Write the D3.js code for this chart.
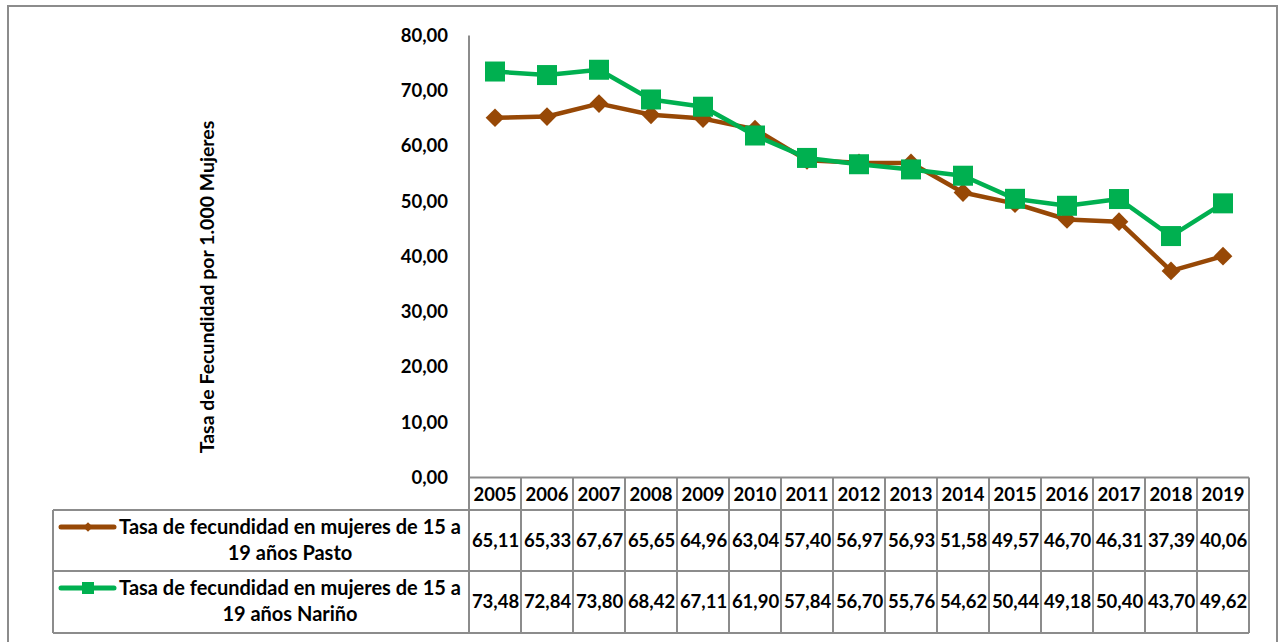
<!DOCTYPE html>
<html><head><meta charset="utf-8">
<script src="https://cdn.jsdelivr.net/npm/d3@7"></script>
<style>
html,body{margin:0;padding:0;background:#fff;}
svg{display:block;font-family:Lato,"Open Sans",sans-serif;}
</style></head>
<body><svg id="c" width="1281" height="642"></svg>
<script>
const years = ["2005","2006","2007","2008","2009","2010","2011","2012","2013","2014","2015","2016","2017","2018","2019"];
const pasto = [65.11,65.33,67.67,65.65,64.96,63.04,57.40,56.97,56.93,51.58,49.57,46.70,46.31,37.39,40.06];
const narino = [73.48,72.84,73.80,68.42,67.11,61.90,57.84,56.70,55.76,54.62,50.44,49.18,50.40,43.70,49.62];
const yTicks = [0,10,20,30,40,50,60,70,80];
const seriesNames = ["Tasa de fecundidad en mujeres de 15 a|19 años Pasto","Tasa de fecundidad en mujeres de 15 a|19 años Nariño"];
const yTitle = "Tasa de Fecundidad por 1.000 Mujeres";

const svg = d3.select("#c");
const grey = "#8c8c8c";
const brown = "#974806", green = "#00B050";
const fmt = v => d3.format(".2f")(v).replace(".", ",");

// outer border
svg.append("rect").attr("x",8).attr("y",6).attr("width",1269).attr("height",700)
  .attr("fill","none").attr("stroke",grey).attr("stroke-width",2);

const x = d3.scaleBand().domain(years).range([469,1249]).padding(0);
const y = d3.scaleLinear().domain([0,80]).range([477.5,35.5]);

// y axis
const ya = svg.append("g").attr("transform","translate(469,0)")
  .call(d3.axisLeft(y).tickValues(yTicks).tickSize(0).tickPadding(21).tickFormat(fmt));
ya.select(".domain").attr("stroke",grey).attr("stroke-width",2).attr("d","M0,35.5V633");
ya.selectAll("text").attr("font-size",18.5).attr("font-weight","bold").attr("fill","#000")
  .attr("font-family","Lato,sans-serif");

// y title
svg.append("text").attr("transform","translate(214,287) rotate(-90)")
  .attr("text-anchor","middle").attr("font-size",19.5).attr("font-weight","bold").text(yTitle);

// table grid
const tbl = svg.append("g").attr("stroke",grey).attr("stroke-width",2).attr("fill","none");
const rowsY = [477.5,510,571,633];
tbl.append("line").attr("x1",469).attr("x2",1249).attr("y1",rowsY[0]).attr("y2",rowsY[0]);
tbl.append("line").attr("x1",53).attr("x2",1249).attr("y1",rowsY[1]).attr("y2",rowsY[1]);
tbl.append("line").attr("x1",53).attr("x2",1249).attr("y1",rowsY[2]).attr("y2",rowsY[2]);
tbl.append("line").attr("x1",53).attr("x2",1249).attr("y1",rowsY[3]).attr("y2",rowsY[3]);
tbl.append("line").attr("x1",53).attr("x2",53).attr("y1",rowsY[1]).attr("y2",rowsY[3]);
years.forEach(yr => {
  tbl.append("line").attr("x1",x(yr)+x.bandwidth()).attr("x2",x(yr)+x.bandwidth())
    .attr("y1",rowsY[0]).attr("y2",rowsY[3]);
});

// header years
svg.append("g").selectAll("text").data(years).join("text")
  .attr("x",d=>x(d)+x.bandwidth()/2).attr("y",501).attr("text-anchor","middle")
  .attr("font-size",18.5).attr("font-weight","bold").text(d=>d);

// values
[[pasto,541],[narino,602]].forEach(([arr,yy])=>{
  svg.append("g").selectAll("text").data(arr).join("text")
    .attr("x",(d,i)=>x(years[i])+x.bandwidth()/2+0.5).attr("y",yy+6).attr("text-anchor","middle")
    .attr("font-size",18.5).attr("font-weight","bold").text(d=>fmt(d));
});

// lines
const line = d3.line().x((d,i)=>x(years[i])+x.bandwidth()/2).y(d=>y(d));
svg.append("path").datum(pasto).attr("d",line).attr("fill","none").attr("stroke",brown).attr("stroke-width",4.5).attr("stroke-linejoin","round");
svg.append("path").datum(narino).attr("d",line).attr("fill","none").attr("stroke",green).attr("stroke-width",4.5).attr("stroke-linejoin","round");

const diamond = d3.symbol().type(d3.symbolSquare).size(175)();
svg.append("g").selectAll("path").data(pasto).join("path")
  .attr("d",diamond)
  .attr("transform",(d,i)=>`translate(${x(years[i])+x.bandwidth()/2},${y(d)}) rotate(45)`)
  .attr("fill",brown);
svg.append("g").selectAll("rect").data(narino).join("rect")
  .attr("x",(d,i)=>x(years[i])+x.bandwidth()/2-10).attr("y",d=>y(d)-10)
  .attr("width",20).attr("height",20).attr("fill",green);

// legend cells
const legY = [527,588];
const cols = [brown,green];
seriesNames.forEach((nm,k)=>{
  const ly = legY[k];
  svg.append("line").attr("x1",61).attr("x2",114).attr("y1",ly).attr("y2",ly)
    .attr("stroke",cols[k]).attr("stroke-width",5).attr("stroke-linecap","round");
  if(k===0){
    svg.append("path").attr("d",d3.symbol().type(d3.symbolSquare).size(45)())
      .attr("transform",`translate(88,${ly}) rotate(45)`).attr("fill",brown);
  } else {
    svg.append("rect").attr("x",82).attr("y",ly-6).attr("width",12).attr("height",12).attr("fill",green);
  }
  const parts = nm.split("|");
  svg.append("text").attr("x",290).attr("y",ly+7).attr("text-anchor","middle")
    .attr("font-size",20).attr("font-weight","bold").text(parts[0]);
  svg.append("text").attr("x",290).attr("y",ly+33).attr("text-anchor","middle")
    .attr("font-size",20).attr("font-weight","bold").text(parts[1]);
});
</script></body></html>
